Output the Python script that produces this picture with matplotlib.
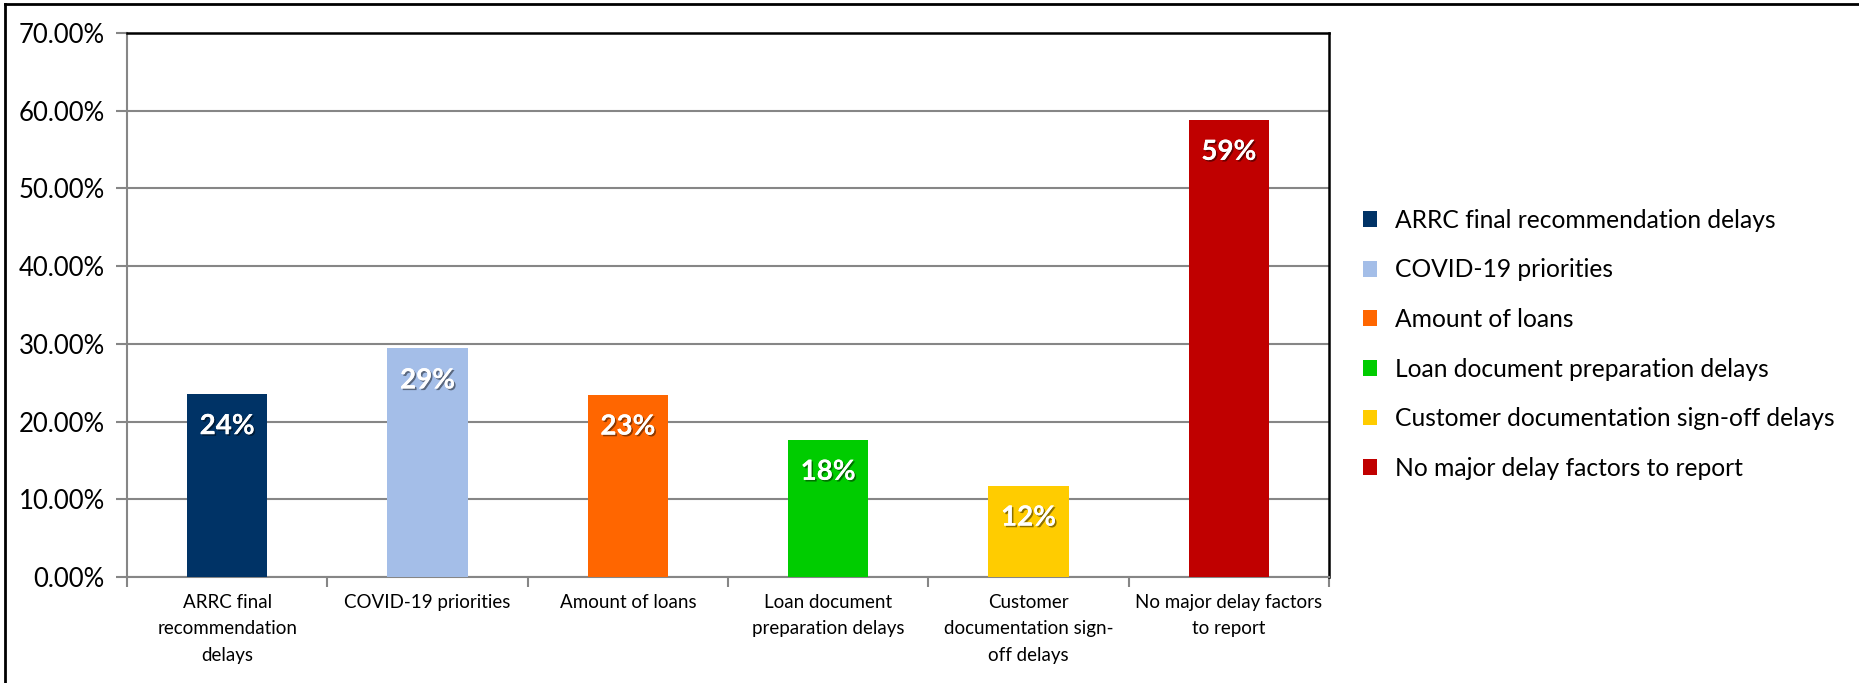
import matplotlib.pyplot as plt
import matplotlib.patheffects as pe
from matplotlib.patches import Patch
from matplotlib.lines import Line2D
from matplotlib.ticker import PercentFormatter
import numpy as np

plt.rcParams['font.family'] = ['Lato', 'DejaVu Sans']

factors = [
    "ARRC final recommendation delays",
    "COVID-19 priorities",
    "Amount of loans",
    "Loan document preparation delays",
    "Customer documentation sign-off delays",
    "No major delay factors to report",
]
tick_labels = [
    "ARRC final\nrecommendation\ndelays",
    "COVID-19 priorities",
    "Amount of loans",
    "Loan document\npreparation delays",
    "Customer\ndocumentation sign-\noff delays",
    "No major delay factors\nto report",
]
shares = [0.2353, 0.2941, 0.2347, 0.1765, 0.1176, 0.5882]
colors = ["#003366", "#A4BEE8", "#FF6600", "#00CC00", "#FFCC00", "#C00000"]

fig = plt.figure(figsize=(18.59, 6.83), dpi=100)
ax = fig.add_axes([0.0683, 0.1552, 0.6466, 0.7965])

x = np.arange(len(shares))
bars = ax.bar(x, shares, width=0.4, color=colors, zorder=3)

ax.set_xlim(-0.5, len(shares) - 0.5)
ax.set_ylim(0, 0.70)
ax.set_yticks(np.arange(0, 0.71, 0.10))
ax.yaxis.set_major_formatter(PercentFormatter(1.0, decimals=2))
ax.grid(axis='y', color='#868686', linewidth=1.5, zorder=0)

# category ticks sit between the bars
ax.set_xticks(x)
ax.set_xticklabels(tick_labels, fontsize=13.5, linespacing=1.7)
ax.tick_params(axis='x', length=0, pad=12)
ax.set_xticks(np.arange(-0.5, len(shares)), minor=True)
ax.tick_params(axis='x', which='minor', length=7, width=1.5, color='#868686')
ax.tick_params(axis='y', length=8, width=1.5, color='#868686', labelsize=18.5, pad=8)

for side in ['left', 'bottom']:
    ax.spines[side].set_color('#868686')
    ax.spines[side].set_linewidth(1.5)
for side in ['top', 'right']:
    ax.spines[side].set_color('black')
    ax.spines[side].set_linewidth(1.8)

# value labels inside the top of each bar
shadow = [pe.withSimplePatchShadow(offset=(1.2, -1.2), shadow_rgbFace='black', alpha=0.45), pe.Normal()]
for b, v in zip(bars, shares):
    ax.annotate(f"{v:.0%}", (b.get_x() + b.get_width() / 2, v), xytext=(0, -32),
                textcoords='offset pixels', ha='center', va='center',
                color='white', fontsize=20, fontweight='bold', path_effects=shadow, zorder=4)

handles = [Patch(facecolor=c, edgecolor='none') for c in colors]
fig.legend(handles, factors, loc='center left', bbox_to_anchor=(0.733, 0.496),
           frameon=False, fontsize=17.7, handlelength=0.6, handleheight=0.6,
           handletextpad=0.7, labelspacing=1.08, borderpad=0, borderaxespad=0)

# outer frame (left and top edges)
fig.add_artist(Line2D([0.0027, 0.0027], [0, 0.994], color='black', linewidth=2, transform=fig.transFigure))
fig.add_artist(Line2D([0.0027, 1], [0.994, 0.994], color='black', linewidth=2, transform=fig.transFigure))

fig.savefig('out.png', dpi=100)
